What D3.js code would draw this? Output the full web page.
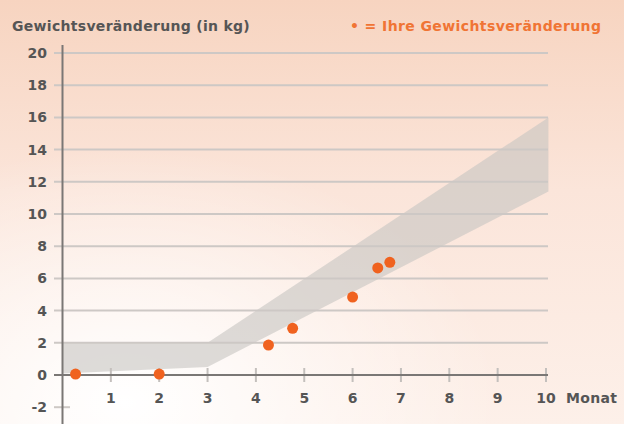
<!DOCTYPE html>
<html lang="de">
<head>
<meta charset="UTF-8">
<title>Gewichtsveränderung</title>
<script src="https://d3js.org/d3.v7.min.js"></script>
<style>
    body { margin: 0; background: #fff; }
    svg { display: block; font-family: "DejaVu Sans", Verdana, sans-serif; }
</style>
</head>
<body>
<svg id="chart" width="624" height="424"></svg>
<script>
    // data
    const yTicks = [-2, 0, 2, 4, 6, 8, 10, 12, 14, 16, 18, 20];
    const xTicks = [1, 2, 3, 4, 5, 6, 7, 8, 9, 10];
    // expected range (grey band)
    const bandMonths = [0, 3, 10.05];
    const bandLow = [0.1, 0.5, 11.4];
    const bandHigh = [2, 2, 16];
    // your weight change (orange dots)
    const dotMonths = [0.27, 2, 4.26, 4.76, 6, 6.52, 6.77];
    const dotValues = [0.06, 0.06, 1.86, 2.9, 4.84, 6.65, 7.0];

    const width = 624, height = 424;
    const x = d3.scaleLinear().domain([0, 10]).range([62.5, 546]);
    const y = d3.scaleLinear().domain([0, 20]).range([375, 53]);
    const xEnd = 548;

    const svg = d3.select("#chart");
    const defs = svg.append("defs");

    const lin = defs.append("linearGradient")
        .attr("id", "bg").attr("x1", 0).attr("y1", 0).attr("x2", 0).attr("y2", 1);
    lin.append("stop").attr("offset", "0%").attr("stop-color", "#f7d4c0");
    lin.append("stop").attr("offset", "45%").attr("stop-color", "#fbe5da");
    lin.append("stop").attr("offset", "100%").attr("stop-color", "#fdf0e9");

    const rad = defs.append("radialGradient")
        .attr("id", "glow").attr("cx", 0.2).attr("cy", 0.95).attr("r", 0.6);
    rad.append("stop").attr("offset", "0%").attr("stop-color", "#ffffff").attr("stop-opacity", 1);
    rad.append("stop").attr("offset", "100%").attr("stop-color", "#ffffff").attr("stop-opacity", 0);

    svg.append("rect").attr("width", width).attr("height", height).attr("fill", "url(#bg)");
    svg.append("rect").attr("width", width).attr("height", height).attr("fill", "url(#glow)");

    // band
    const bandData = bandMonths.map((m, i) => ({m, lo: bandLow[i], hi: bandHigh[i]}));
    svg.append("path")
        .datum(bandData)
        .attr("fill", "#c6c4c2")
        .attr("fill-opacity", 0.6)
        .attr("d", d3.area().x(d => x(d.m)).y0(d => y(d.lo)).y1(d => y(d.hi)));

    // grid lines
    svg.append("g")
        .selectAll("line")
        .data(yTicks.filter(v => v > 0))
        .join("line")
        .attr("x1", 54).attr("x2", xEnd)
        .attr("y1", d => y(d)).attr("y2", d => y(d))
        .attr("stroke", "#cdc8c5").attr("stroke-width", 2);

    // short tick at -2
    svg.append("line")
        .attr("x1", 54).attr("x2", 70)
        .attr("y1", y(-2)).attr("y2", y(-2))
        .attr("stroke", "#cdc8c5").attr("stroke-width", 2);

    // x axis ticks
    svg.append("g")
        .selectAll("line")
        .data(xTicks)
        .join("line")
        .attr("x1", d => x(d)).attr("x2", d => x(d))
        .attr("y1", y(0) - 7).attr("y2", y(0) + 7)
        .attr("stroke", "#c4c0bd").attr("stroke-width", 2);

    // axes
    svg.append("line")
        .attr("x1", 54).attr("x2", xEnd)
        .attr("y1", y(0)).attr("y2", y(0))
        .attr("stroke", "#7a7775").attr("stroke-width", 2);
    svg.append("line")
        .attr("x1", x(0)).attr("x2", x(0))
        .attr("y1", 45).attr("y2", height)
        .attr("stroke", "#7a7775").attr("stroke-width", 2);

    // tick labels
    svg.append("g")
        .attr("font-size", 14).attr("font-weight", "bold").attr("fill", "#555")
        .attr("text-anchor", "end")
        .selectAll("text")
        .data(yTicks)
        .join("text")
        .attr("x", 47).attr("y", d => y(d)).attr("dy", "0.36em")
        .text(d => d);

    svg.append("g")
        .attr("font-size", 14).attr("font-weight", "bold").attr("fill", "#555")
        .attr("text-anchor", "middle")
        .selectAll("text")
        .data(xTicks)
        .join("text")
        .attr("x", d => x(d)).attr("y", 403)
        .text(d => d);

    svg.append("text")
        .attr("x", 566).attr("y", 403)
        .attr("font-size", 14).attr("font-weight", "bold").attr("fill", "#555")
        .attr("letter-spacing", 0.3)
        .text("Monat");

    svg.append("text")
        .attr("x", 12).attr("y", 31)
        .attr("font-size", 14).attr("font-weight", "bold").attr("fill", "#555")
        .attr("letter-spacing", 0.3)
        .text("Gewichtsveränderung (in kg)");

    svg.append("text")
        .attr("x", 350).attr("y", 31)
        .attr("font-size", 14).attr("font-weight", "bold").attr("fill", "#f07434")
        .attr("letter-spacing", 0.4)
        .text("• = Ihre Gewichtsveränderung");

    // dots
    svg.append("g")
        .selectAll("circle")
        .data(dotMonths.map((m, i) => [m, dotValues[i]]))
        .join("circle")
        .attr("cx", d => x(d[0])).attr("cy", d => y(d[1]))
        .attr("r", 5.5)
        .attr("fill", "#f0621f");
</script>
</body>
</html>
